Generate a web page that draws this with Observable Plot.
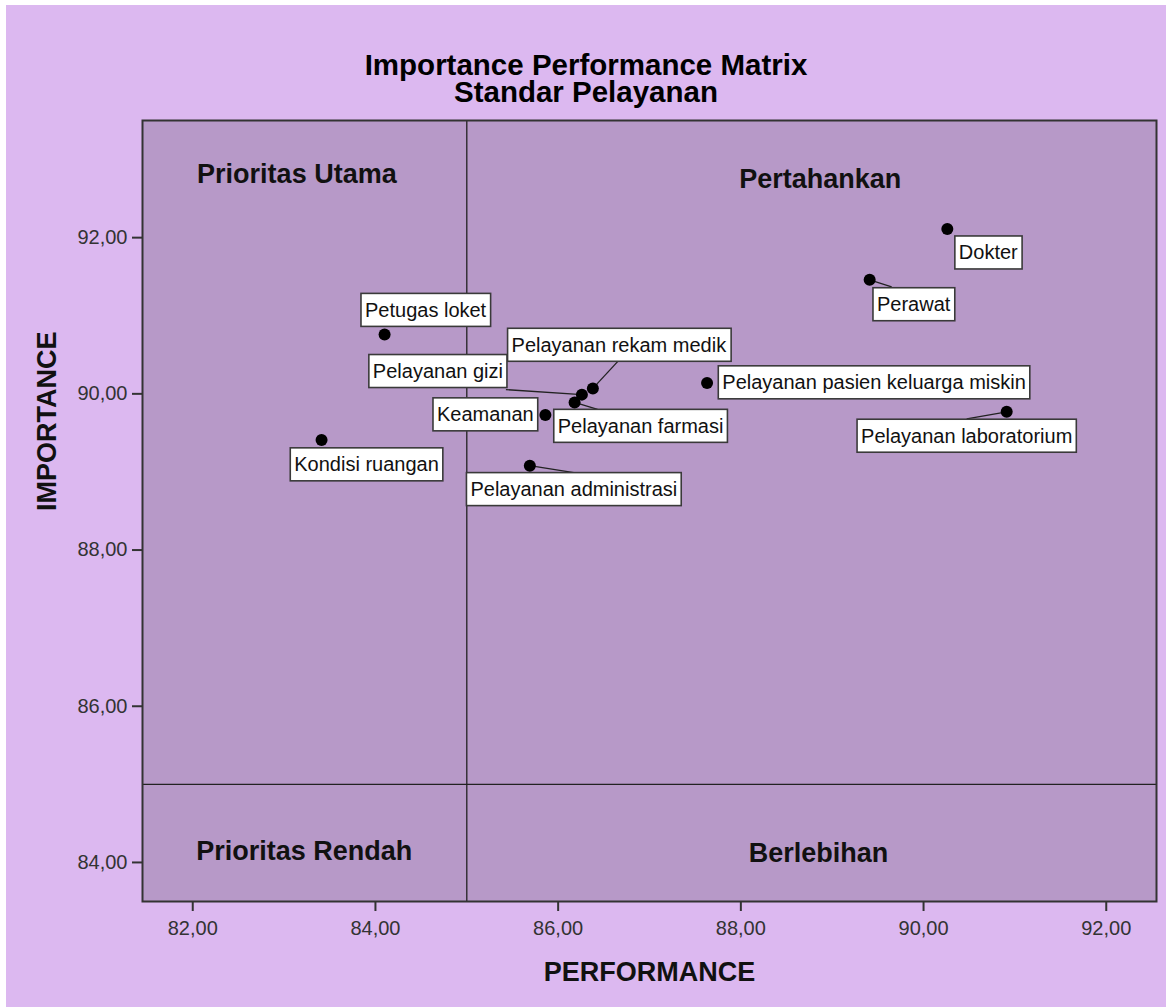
<!DOCTYPE html>
<html><head><meta charset="utf-8">
<script src="https://cdn.jsdelivr.net/npm/d3@7"></script>
<script src="https://cdn.jsdelivr.net/npm/@observablehq/plot@0.6"></script>
<style>
html,body{margin:0;padding:0;background:#fff;}
#panel{position:absolute;left:6px;top:5px;width:1160px;height:1002px;background:#dcb8f0;font-family:"Liberation Sans",Arial,sans-serif;}
#title{height:100px;box-sizing:border-box;padding-top:46px;text-align:center;font-weight:bold;font-size:29.5px;line-height:27px;color:#000;}
#chart svg{display:block;overflow:visible;}
#chart svg [aria-label="x-axis"] line,#chart svg [aria-label="y-axis"] line,
#chart svg [aria-label="x-axis tick"] path,#chart svg [aria-label="y-axis tick"] path{stroke-width:2px;}
</style></head><body>
<div id="panel"><div id="title">Importance Performance Matrix<br>Standar Pelayanan</div><div id="chart"></div></div>
<script>
// ---- data ----
const attributes = ["Dokter","Perawat","Petugas loket","Pelayanan rekam medik","Pelayanan gizi","Pelayanan farmasi","Keamanan","Pelayanan pasien keluarga miskin","Pelayanan laboratorium","Kondisi ruangan","Pelayanan administrasi"];
const performance = [90.26, 89.41, 84.10, 86.38, 86.26, 86.18, 85.86, 87.63, 90.91, 83.41, 85.69];
const importance  = [92.11, 91.46, 90.76, 90.07, 89.99, 89.89, 89.73, 90.14, 89.77, 89.41, 89.08];
const xTicks = [82, 84, 86, 88, 90, 92];
const yTicks = [84, 86, 88, 90, 92];
const xDomain = [81.45, 92.55];
const yDomain = [83.5, 93.5];
const performanceCut = 85;
const importanceCut = 85;
const quadrantNames = ["Prioritas Utama", "Pertahankan", "Prioritas Rendah", "Berlebihan"];
const quadrantX = [83.14, 88.87, 83.22, 88.85];
const quadrantY = [92.70, 92.63, 84.03, 84.01];

// ---- layout (pixels): label box centre offset from its point, leader end offset (or null) ----
const labelOffset = [[41,24],[44,25],[41,-24],[26,-43],[-144,-23],[66,24],[-60,0],[167,0],[-40,24.5],[45,25],[44,24]];
const leaderEnd   = [null,[22,7],null,[25,-27],[-76,-5],[23,7],null,null,[-40,7],null,[44,7]];

const W = 1160, H = 902, mL = 136, mR = 10, mT = 15, mB = 106;
const fmt = d => d.toFixed(2).replace(".", ",");

const xs = Plot.scale({x: {domain: xDomain, range: [mL, W - mR]}});
const ys = Plot.scale({y: {domain: yDomain, range: [H - mB, mT]}});

const points = attributes.map((name, i) => ({name, x: performance[i], y: importance[i], i}));
const labels = points.map(p => ({
  name: p.name,
  x: xs.invert(xs.apply(p.x) + labelOffset[p.i][0]),
  y: ys.invert(ys.apply(p.y) + labelOffset[p.i][1])
}));
const leaders = points.filter(p => leaderEnd[p.i]).map(p => ({
  x1: p.x, y1: p.y,
  x2: xs.invert(xs.apply(p.x) + leaderEnd[p.i][0]),
  y2: ys.invert(ys.apply(p.y) + leaderEnd[p.i][1])
}));
const quadIdx = quadrantNames.map((_, i) => i);

const chart = Plot.plot({
  width: W, height: H,
  marginLeft: mL, marginRight: mR, marginTop: mT, marginBottom: mB,
  style: {background: "transparent", fontFamily: "'Liberation Sans', Arial, sans-serif", fontSize: "20px", color: "#333", overflow: "visible"},
  x: {domain: xDomain, ticks: xTicks, tickFormat: fmt, tickSize: 10, tickPadding: 9, label: null},
  y: {domain: yDomain, ticks: yTicks, tickFormat: fmt, tickSize: 10, tickPadding: 5, label: null},
  marks: [
    Plot.frame({fill: "#b799c8"}),
    Plot.ruleX([performanceCut], {stroke: "#222", strokeWidth: 1.3}),
    Plot.ruleY([importanceCut], {stroke: "#222", strokeWidth: 1.3}),
    Plot.text(quadIdx, {x: i => quadrantX[i], y: i => quadrantY[i], text: i => quadrantNames[i], fontSize: 27, fontWeight: "bold", fill: "#111", lineAnchor: "bottom"}),
    Plot.frame({stroke: "#333", strokeWidth: 2}),
    Plot.text(["PERFORMANCE"], {text: d => d, frameAnchor: "bottom", dy: 79, lineAnchor: "bottom", fontSize: 27, fontWeight: "bold", fill: "#111"}),
    Plot.text(["IMPORTANCE"], {text: d => d, frameAnchor: "left", dx: -95, rotate: -90, lineAnchor: "middle", fontSize: 27, fontWeight: "bold", fill: "#111"}),
    Plot.link(leaders, {x1: "x1", y1: "y1", x2: "x2", y2: "y2", stroke: "#222", strokeWidth: 1.3}),
    Plot.text(labels, {x: "x", y: "y", text: "name", fontSize: 20, fill: "#111", lineAnchor: "middle", textAnchor: "middle"}),
    Plot.dot(points, {x: "x", y: "y", r: 6, fill: "#000", stroke: "none"})
  ]
});
document.getElementById("chart").append(chart);

// white boxes behind the point labels
const NS = "http://www.w3.org/2000/svg";
const nameSet = new Set(attributes);
chart.querySelectorAll("text").forEach(t => {
  if (!nameSet.has(t.textContent)) return;
  const b = t.getBBox();
  const r = document.createElementNS(NS, "rect");
  const px = 4, py = 5.5;
  r.setAttribute("x", b.x - px);
  r.setAttribute("y", b.y - py);
  r.setAttribute("width", b.width + 2 * px);
  r.setAttribute("height", b.height + 2 * py);
  r.setAttribute("fill", "#fff");
  r.setAttribute("stroke", "#3a3a3a");
  r.setAttribute("stroke-width", "1.6");
  const tr = t.getAttribute("transform");
  if (tr) r.setAttribute("transform", tr);
  t.parentNode.insertBefore(r, t);
});
</script>
</body></html>
